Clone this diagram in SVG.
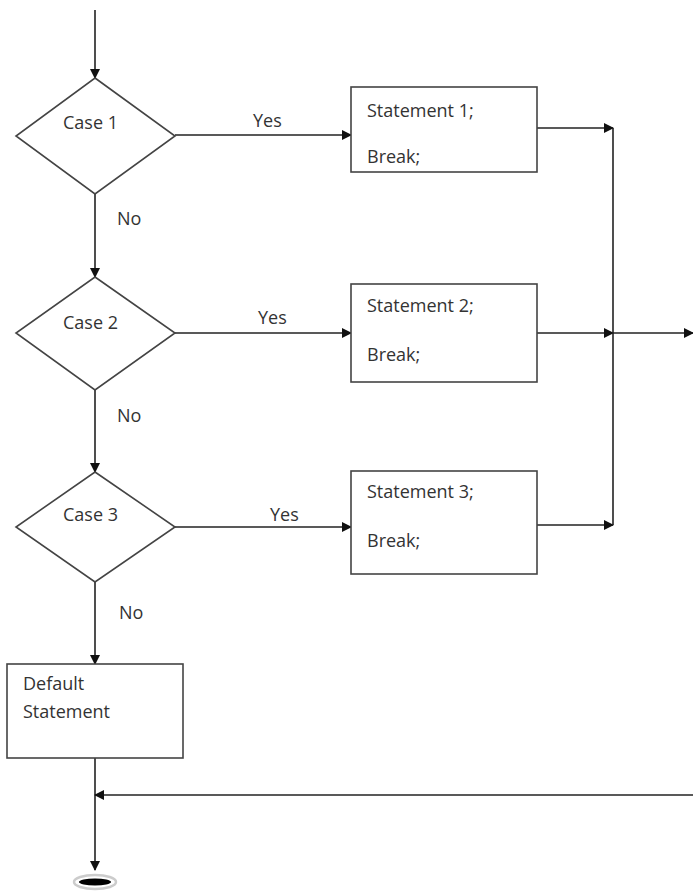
<svg xmlns="http://www.w3.org/2000/svg" width="693" height="893" viewBox="0 0 693 893">
<style>
.s{fill:#fff;stroke:#444;stroke-width:1.6}
.c{fill:none;stroke:#222;stroke-width:1.6}
text{font-family:"Open Sans","Noto Sans",sans-serif;font-size:18px;fill:#333}
</style>
<defs>
<marker id="a" markerWidth="10" markerHeight="10" refX="9" refY="5" orient="auto" markerUnits="userSpaceOnUse">
<path d="M0,0 L10,5 L0,10 z" fill="#111"/>
</marker>
</defs>
<g id="connectors">
<line class="c" x1="95" y1="10" x2="95" y2="78" marker-end="url(#a)"/>
<line class="c" x1="95" y1="194" x2="95" y2="277" marker-end="url(#a)"/>
<line class="c" x1="95" y1="390" x2="95" y2="472" marker-end="url(#a)"/>
<line class="c" x1="95" y1="582" x2="95" y2="664" marker-end="url(#a)"/>
<line class="c" x1="175" y1="135" x2="351" y2="135" marker-end="url(#a)"/>
<line class="c" x1="175" y1="333" x2="351" y2="333" marker-end="url(#a)"/>
<line class="c" x1="175" y1="527" x2="351" y2="527" marker-end="url(#a)"/>
<line class="c" x1="537" y1="128" x2="613" y2="128" marker-end="url(#a)"/>
<line class="c" x1="537" y1="333" x2="613" y2="333" marker-end="url(#a)"/>
<line class="c" x1="537" y1="525" x2="613" y2="525" marker-end="url(#a)"/>
<line class="c" x1="613" y1="128" x2="613" y2="525"/>
<line class="c" x1="613" y1="333" x2="693" y2="333" marker-end="url(#a)"/>
<line class="c" x1="95" y1="758" x2="95" y2="870" marker-end="url(#a)"/>
<line class="c" x1="693" y1="795" x2="95" y2="795" marker-end="url(#a)"/>
<text x="253" y="127">Yes</text>
<text x="258" y="324">Yes</text>
<text x="270" y="521">Yes</text>
<text x="117" y="225">No</text>
<text x="117" y="422">No</text>
<text x="119" y="619">No</text>
</g>
<g id="case1"><polygon class="s" points="95,78 175,136 95,194 16,136"/><text x="63" y="129">Case 1</text></g>
<g id="case2"><polygon class="s" points="95,277 175,333 95,390 16,333"/><text x="63" y="329">Case 2</text></g>
<g id="case3"><polygon class="s" points="95,472 175,527 95,582 16,527"/><text x="63" y="521">Case 3</text></g>
<g id="stmt1"><rect class="s" x="351" y="87" width="186" height="85"/><text x="367" y="117">Statement 1;</text><text x="367" y="163">Break;</text></g>
<g id="stmt2"><rect class="s" x="351" y="284" width="186" height="98"/><text x="367" y="312">Statement 2;</text><text x="367" y="361">Break;</text></g>
<g id="stmt3"><rect class="s" x="351" y="471" width="186" height="103"/><text x="367" y="498">Statement 3;</text><text x="367" y="547">Break;</text></g>
<g id="default"><rect class="s" x="7" y="664" width="176" height="94"/><text x="23" y="690">Default</text><text x="23" y="718">Statement</text></g>
<g id="end"><ellipse cx="95" cy="882" rx="21" ry="7" fill="#fff" stroke="#ccc" stroke-width="2.5"/><ellipse cx="95" cy="882" rx="16" ry="3.5" fill="#000"/></g>
</svg>
